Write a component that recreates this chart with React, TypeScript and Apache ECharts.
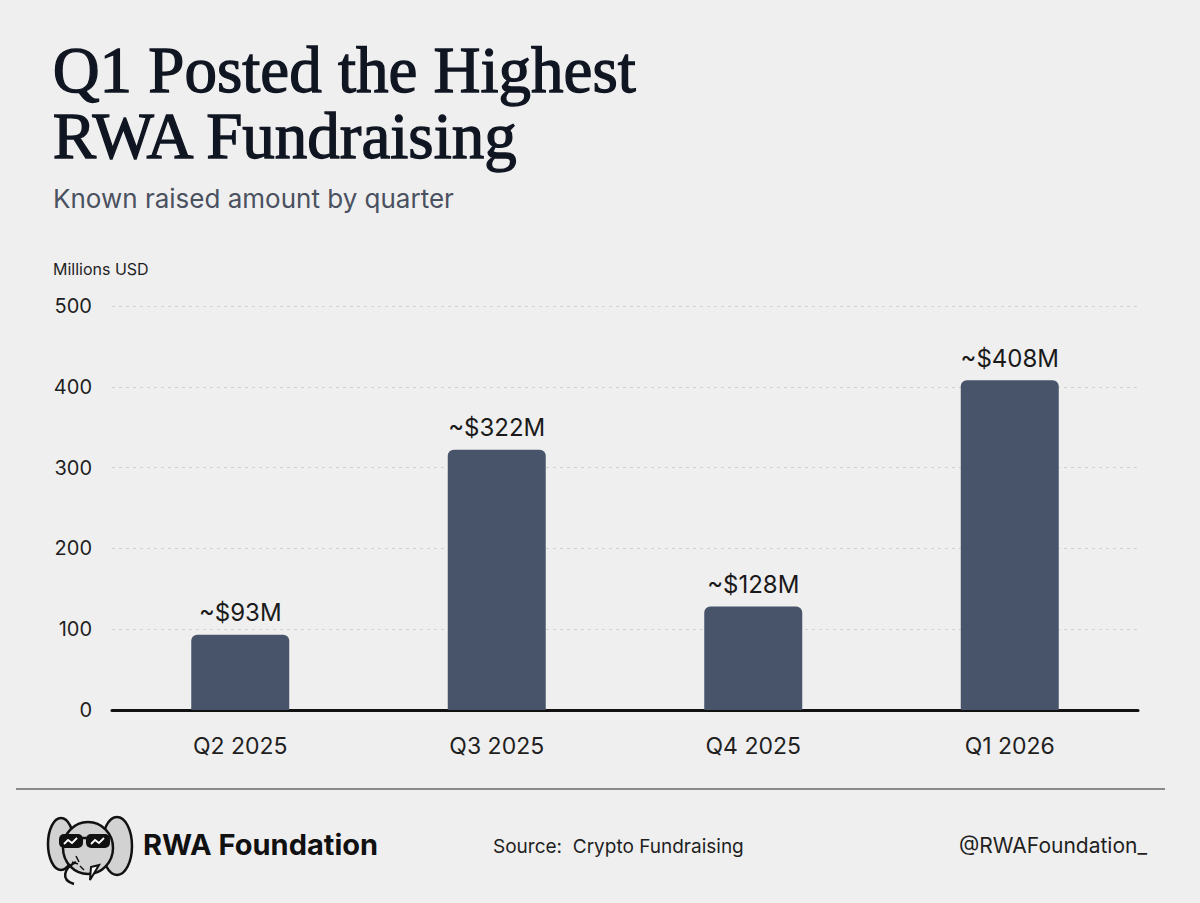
import React, { useEffect, useRef } from "react";
import * as echarts from "echarts";

const categories = ["Q2 2025", "Q3 2025", "Q4 2025", "Q1 2026"];
const values = [93, 322, 128, 408];
const valueLabels = ["~$93M", "~$322M", "~$128M", "~$408M"];
const yTicks = [0, 100, 200, 300, 400, 500];
const titleLines = ["Q1 Posted the Highest", "RWA Fundraising"];

const SANS = "Inter, 'Noto Sans', sans-serif";
const SERIF = "'Liberation Serif', 'DejaVu Serif', serif";

function logo(x: number, y: number) {
  const line = "#111";
  const fill = "#d2d2d2";
  return {
    type: "group",
    x,
    y,
    children: [
      { type: "ellipse", shape: { cx: 15, cy: 32, rx: 13, ry: 26 }, style: { fill, stroke: line, lineWidth: 2.5 } },
      { type: "ellipse", shape: { cx: 71, cy: 34, rx: 15, ry: 29 }, style: { fill, stroke: line, lineWidth: 2.5 } },
      { type: "ellipse", shape: { cx: 42, cy: 36, rx: 25, ry: 26 }, style: { fill, stroke: line, lineWidth: 2.5 } },
      { type: "rect", shape: { x: 13, y: 22, width: 24, height: 14, r: 5 }, style: { fill: "#111" } },
      { type: "rect", shape: { x: 40, y: 22, width: 24, height: 14, r: 5 }, style: { fill: "#111" } },
      { type: "line", shape: { x1: 34, y1: 26, x2: 43, y2: 26 }, style: { stroke: "#111", lineWidth: 2.5 } },
      { type: "polyline", shape: { points: [[18, 32], [22, 28], [26, 31], [31, 26]] }, style: { stroke: "#fff", lineWidth: 1.8, fill: "none" } },
      { type: "polyline", shape: { points: [[45, 32], [49, 28], [53, 31], [58, 26]] }, style: { stroke: "#fff", lineWidth: 1.8, fill: "none" } },
      { type: "bezierCurve", shape: { x1: 30, y1: 50, cpx1: 18, cpy1: 56, cpx2: 14, cpy2: 68, x2: 28, y2: 72 }, style: { stroke: line, lineWidth: 2.5, fill: "none" } },
      { type: "line", shape: { x1: 30, y1: 44, x2: 33, y2: 50 }, style: { stroke: line, lineWidth: 1.5 } },
      { type: "line", shape: { x1: 26, y1: 50, x2: 32, y2: 52 }, style: { stroke: line, lineWidth: 1.5 } },
      { type: "line", shape: { x1: 34, y1: 54, x2: 38, y2: 58 }, style: { stroke: line, lineWidth: 1.5 } },
      { type: "polygon", shape: { points: [[45, 55], [53, 53], [44, 68]] }, style: { fill: "#fff", stroke: line, lineWidth: 2 } },
    ],
  };
}

export default function App() {
  const ref = useRef<HTMLDivElement>(null);

  useEffect(() => {
    document.body.style.margin = "0";
    document.body.style.background = "#f0efef";
    if (!ref.current) return;
    const chart = echarts.init(ref.current, undefined, { renderer: "svg" });
    const titleStyle = {
      fill: "#0f1521",
      stroke: "#0f1521",
      lineWidth: 1.3,
      font: `65px ${SERIF}`,
    };
    chart.setOption({
      animation: false,
      backgroundColor: "#f0efef",
      grid: { left: 112, right: 62, top: 306, bottom: 193 },
      xAxis: {
        type: "category",
        data: categories,
        axisLine: { show: true, lineStyle: { color: "#111", width: 3 } },
        axisTick: { show: false },
        axisLabel: { color: "#1f1f1f", fontSize: 23, fontFamily: SANS, margin: 24 },
      },
      yAxis: {
        type: "value",
        min: yTicks[0],
        max: yTicks[yTicks.length - 1],
        interval: 100,
        axisLine: { show: false },
        axisTick: { show: false },
        axisLabel: { color: "#1f1f1f", fontSize: 20, fontFamily: SANS, margin: 20 },
        splitLine: { show: true, lineStyle: { color: "#d2d2d2", type: [3, 4], width: 1 } },
      },
      series: [
        {
          type: "bar",
          data: values,
          barWidth: 98,
          itemStyle: { color: "#47546a", borderRadius: [6, 6, 0, 0] },
          label: {
            show: true,
            position: "top",
            distance: 10,
            color: "#1a1a1a",
            fontSize: 24,
            fontFamily: SANS,
            formatter: (p: any) => valueLabels[p.dataIndex],
          },
        },
      ],
      graphic: [
        {
          type: "text",
          left: 52,
          top: 37,
          style: { text: titleLines[0], ...titleStyle },
        },
        {
          type: "text",
          left: 52,
          top: 103,
          style: { text: titleLines[1], ...titleStyle },
        },
        {
          type: "text",
          left: 53,
          top: 185,
          style: { text: "Known raised amount by quarter", fill: "#4a5160", font: `26px ${SANS}` },
        },
        {
          type: "text",
          left: 53,
          top: 261,
          style: { text: "Millions USD", fill: "#1f1f1f", font: `16px ${SANS}` },
        },
        {
          type: "line",
          shape: { x1: 16, y1: 789, x2: 1165, y2: 789 },
          style: { stroke: "#8a8a8a", lineWidth: 2 },
        },
        logo(46, 812),
        {
          type: "text",
          left: 143,
          top: 830,
          style: { text: "RWA Foundation", fill: "#111", font: `bold 29px ${SANS}` },
        },
        {
          type: "text",
          left: 493,
          top: 837,
          style: { text: "Source:  Crypto Fundraising", fill: "#1f1f1f", font: `19px ${SANS}` },
        },
        {
          type: "text",
          right: 53,
          top: 835,
          style: { text: "@RWAFoundation_", fill: "#1f1f1f", font: `21px ${SANS}` },
        },
      ],
    });
    return () => chart.dispose();
  }, []);

  return <div ref={ref} style={{ width: 1200, height: 903 }} />;
}
